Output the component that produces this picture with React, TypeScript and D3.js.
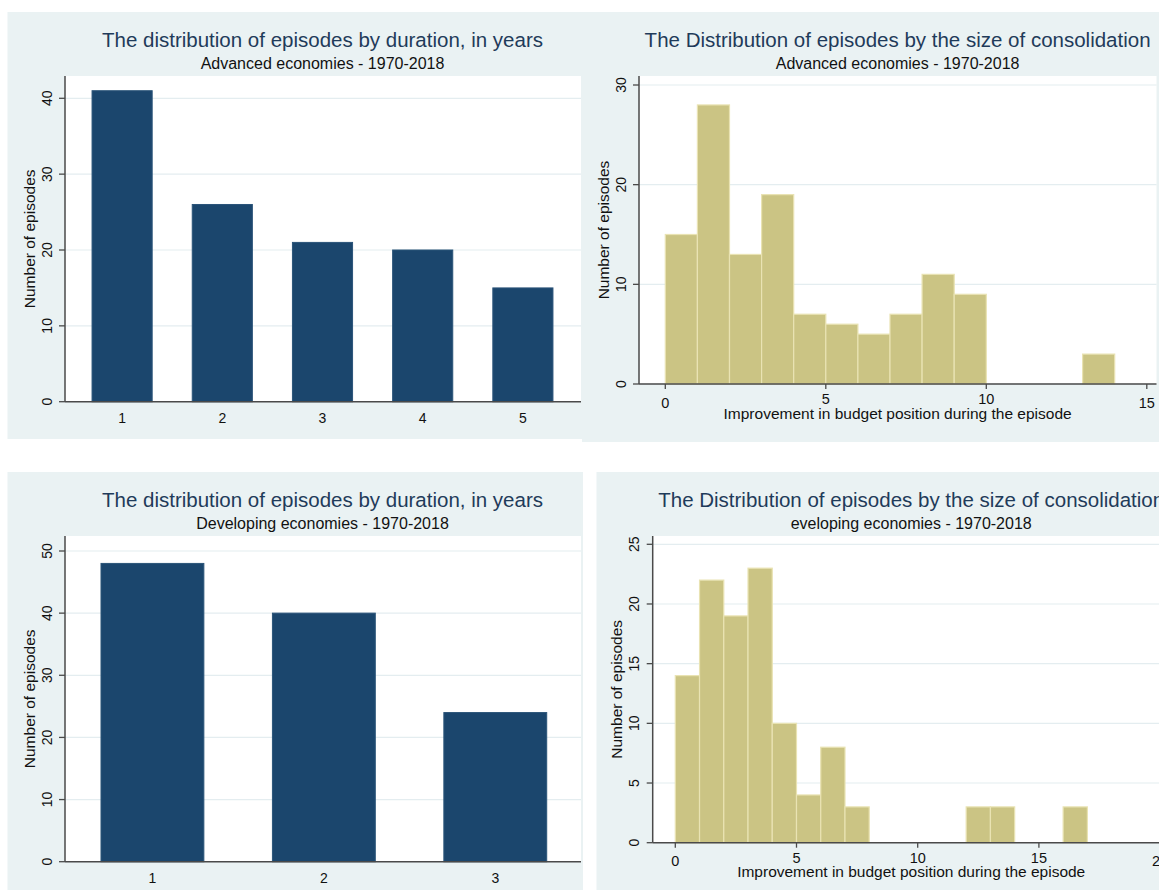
import React from 'react';
import * as d3 from 'd3';

// ---------- data ----------
const durationAdvCategories = [1, 2, 3, 4, 5];
const durationAdvCounts = [41, 26, 21, 20, 15];
const durationDevCategories = [1, 2, 3];
const durationDevCounts = [48, 40, 24];

const sizeAdvBinStarts = [0, 1, 2, 3, 4, 5, 6, 7, 8, 9, 13];
const sizeAdvCounts = [15, 28, 13, 19, 7, 6, 5, 7, 11, 9, 3];
const sizeDevBinStarts = [0, 1, 2, 3, 4, 5, 6, 7, 12, 13, 16];
const sizeDevCounts = [14, 22, 19, 23, 10, 4, 8, 3, 3, 3, 3];
const binWidth = 1;

const yTicksDurAdv = [0, 10, 20, 30, 40];
const yTicksDurDev = [0, 10, 20, 30, 40, 50];
const yTicksSizeAdv = [0, 10, 20, 30];
const yTicksSizeDev = [0, 5, 10, 15, 20, 25];
const xTicksSizeAdv = [0, 5, 10, 15];
const xTicksSizeDev = [0, 5, 10, 15, 20];

const titleDuration = 'The distribution of episodes by duration, in years';
const titleSize = 'The Distribution of episodes by the size of consolidation';
const subAdv = 'Advanced economies - 1970-2018';
const subDev = 'Developing economies - 1970-2018';
const subDevCut = 'eveloping economies - 1970-2018';
const yTitle = 'Number of episodes';
const xTitleSize = 'Improvement in budget position during the episode';

// ---------- style ----------
const FONT = '"Liberation Sans", Arial, Helvetica, sans-serif';
const BG = '#eaf2f3';
const GRID = '#e4edf0';
const AXIS = '#4a4a4a';
const NAVY = '#1b466d';
const NAVY_EDGE = '#2b5479';
const KHAKI = '#cbc484';
const KHAKI_EDGE = '#e9e3b3';
const TITLE_COLOR = '#1f3b5a';

function Frame({ bg, plot, cx, title, subtitle, yTicks, yScale, children }: any) {
  return (
    <g>
      <rect x={bg.x} y={bg.y} width={bg.w} height={bg.h} fill={BG} />
      <rect x={plot.left} y={plot.top} width={plot.right - plot.left} height={plot.bottom - plot.top} fill="#ffffff" />
      {yTicks.map((t: number) => (
        <line key={'g' + t} x1={plot.left} x2={plot.right} y1={yScale(t)} y2={yScale(t)} stroke={GRID} strokeWidth={1.2} />
      ))}
      {children}
      <line x1={plot.left} x2={plot.left} y1={plot.top} y2={plot.bottom} stroke={AXIS} strokeWidth={1.5} />
      <line x1={plot.left} x2={plot.right} y1={plot.bottom} y2={plot.bottom} stroke={AXIS} strokeWidth={1.5} />
      {yTicks.map((t: number) => (
        <g key={'t' + t}>
          <line x1={plot.left - 6} x2={plot.left} y1={yScale(t)} y2={yScale(t)} stroke={AXIS} strokeWidth={1.3} />
          <text
            transform={`translate(${plot.left - 13.5},${yScale(t)}) rotate(-90)`}
            textAnchor="middle"
            fontSize={14}
            fill="#111"
          >
            {t}
          </text>
        </g>
      ))}
      <text
        transform={`translate(${plot.left - 30.5},${(plot.top + plot.bottom) / 2}) rotate(-90)`}
        textAnchor="middle"
        fontSize={15.5}
        fill="#111"
      >
        {yTitle}
      </text>
      <text x={cx} y={bg.y + 34.7} textAnchor="middle" fontSize={20.5} fill={TITLE_COLOR}>
        {title}
      </text>
      <text x={cx} y={bg.y + 57} textAnchor="middle" fontSize={16} fill="#111">
        {subtitle}
      </text>
    </g>
  );
}

function BarPanel({ bg, plot, cx, title, subtitle, categories, counts, xDomain, yTicks, yRef }: any) {
  const x = d3.scaleLinear().domain(xDomain).range([plot.left, plot.right]);
  const y = d3.scaleLinear().domain([0, yRef.value]).range([plot.bottom, yRef.px]);
  const half = 0.3;
  return (
    <Frame bg={bg} plot={plot} cx={cx} title={title} subtitle={subtitle} yTicks={yTicks} yScale={y}>
      {categories.map((c: number, i: number) => (
        <rect
          key={c}
          x={x(c - half)}
          y={y(counts[i])}
          width={x(c + half) - x(c - half)}
          height={y(0) - y(counts[i])}
          fill={NAVY}
          stroke={NAVY_EDGE}
          strokeWidth={1}
        />
      ))}
      {categories.map((c: number) => (
        <text key={'x' + c} x={x(c)} y={plot.bottom + 21.3} textAnchor="middle" fontSize={14} fill="#111">
          {c}
        </text>
      ))}
    </Frame>
  );
}

function HistPanel({ bg, plot, cx, title, subtitle, starts, counts, xRef, yTicks, yRef, xTicks }: any) {
  const x = d3.scaleLinear().domain([0, xRef.value]).range([xRef.px0, xRef.px1]);
  const y = d3.scaleLinear().domain([0, yRef.value]).range([plot.bottom, yRef.px]);
  const titleHalf = 175;
  return (
    <Frame bg={bg} plot={plot} cx={cx} title={title} subtitle={subtitle} yTicks={yTicks} yScale={y}>
      {starts.map((s: number, i: number) => (
        <rect
          key={s}
          x={x(s)}
          y={y(counts[i])}
          width={x(s + binWidth) - x(s)}
          height={y(0) - y(counts[i])}
          fill={KHAKI}
          stroke={KHAKI_EDGE}
          strokeWidth={1.2}
        />
      ))}
      {xTicks.map((t: number) => {
        const under = Math.abs(x(t) - cx) < titleHalf;
        return (
          <g key={'x' + t}>
            <line x1={x(t)} x2={x(t)} y1={plot.bottom} y2={plot.bottom + 5} stroke={AXIS} strokeWidth={1.3} />
            <text x={x(t)} y={plot.bottom + (under ? 20 : 23.5)} textAnchor="middle" fontSize={14.5} fill="#111">
              {t}
            </text>
          </g>
        );
      })}
      <text x={cx} y={plot.bottom + 34.5} textAnchor="middle" fontSize={15.5} fill="#111">
        {xTitleSize}
      </text>
    </Frame>
  );
}

export default function App() {
  return (
    <svg
      width={1159}
      height={891}
      style={{ position: 'absolute', left: 0, top: 0, display: 'block', background: '#ffffff' }}
      fontFamily={FONT}
    >
      <rect x={0} y={0} width={1159} height={891} fill="#ffffff" />
      <BarPanel
        bg={{ x: 7.5, y: 12, w: 574.5, h: 427 }}
        plot={{ left: 65, right: 581, top: 76, bottom: 401.7 }}
        cx={322.5}
        title={titleDuration}
        subtitle={subAdv}
        categories={durationAdvCategories}
        counts={durationAdvCounts}
        xDomain={[0.43, 5.58]}
        yTicks={yTicksDurAdv}
        yRef={{ value: 40, px: 98.3 }}
      />
      <HistPanel
        bg={{ x: 582, y: 12, w: 577, h: 430 }}
        plot={{ left: 639, right: 1156.5, top: 76, bottom: 384 }}
        cx={897.6}
        title={titleSize}
        subtitle={subAdv}
        starts={sizeAdvBinStarts}
        counts={sizeAdvCounts}
        xRef={{ value: 15, px0: 665.3, px1: 1146.8 }}
        yTicks={yTicksSizeAdv}
        yRef={{ value: 30, px: 85 }}
        xTicks={xTicksSizeAdv}
      />
      <BarPanel
        bg={{ x: 7.5, y: 472, w: 575.5, h: 418 }}
        plot={{ left: 65, right: 581, top: 536, bottom: 861.7 }}
        cx={322.5}
        title={titleDuration}
        subtitle={subDev}
        categories={durationDevCategories}
        counts={durationDevCounts}
        xDomain={[0.49, 3.5]}
        yTicks={yTicksDurDev}
        yRef={{ value: 50, px: 551 }}
      />
      <HistPanel
        bg={{ x: 596.5, y: 472, w: 580, h: 418 }}
        plot={{ left: 652.7, right: 1180, top: 536, bottom: 842.7 }}
        cx={911.2}
        title={titleSize}
        subtitle={subDevCut}
        starts={sizeDevBinStarts}
        counts={sizeDevCounts}
        xRef={{ value: 20, px0: 675.3, px1: 1160.1 }}
        yTicks={yTicksSizeDev}
        yRef={{ value: 25, px: 544.3 }}
        xTicks={xTicksSizeDev}
      />
    </svg>
  );
}
